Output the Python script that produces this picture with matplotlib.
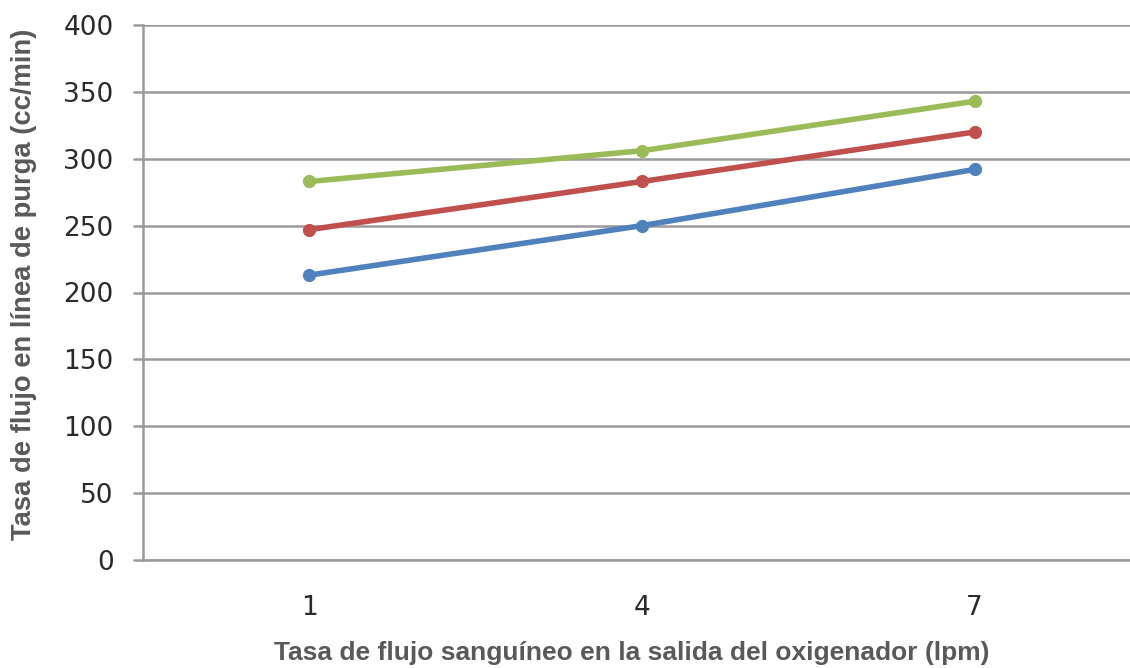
import matplotlib
matplotlib.use("Agg")
import matplotlib.pyplot as plt

categories = ["1", "4", "7"]
serie_azul = [213, 250, 292]
serie_roja = [247, 283, 320]
serie_verde = [283, 306, 343]
y_ticks = [0, 50, 100, 150, 200, 250, 300, 350, 400]

W, H = 1130, 668
fig = plt.figure(figsize=(W / 100, H / 100), dpi=100)
fig.patch.set_facecolor("white")

left, right, top, bottom = 143, 1141, 25, 560
ax = fig.add_axes([left / W, 1 - bottom / H, (right - left) / W, (bottom - top) / H])

grid_c = "#9a9a9a"
x = list(range(len(categories)))
for vals, col in [(serie_azul, "#4F81BD"), (serie_roja, "#C0504D"), (serie_verde, "#9BBB59")]:
    ax.plot(x, vals, color=col, lw=4.0, marker="o", ms=8.5, solid_capstyle="round", zorder=3)

ax.set_xlim(-0.5, 2.5)
ax.set_ylim(0, 400)
ax.set_yticks(y_ticks)
ax.set_yticklabels([str(v) for v in y_ticks])
ax.set_xticks(x)
ax.set_xticklabels(categories)

ax.grid(axis="y", color=grid_c, lw=1.8, zorder=1)
ax.set_axisbelow(True)
for s in ["top", "right"]:
    ax.spines[s].set_visible(False)
ax.spines["left"].set_color(grid_c)
ax.spines["left"].set_linewidth(1.8)
ax.spines["bottom"].set_color(grid_c)
ax.spines["bottom"].set_linewidth(1.8)

ax.tick_params(axis="y", direction="out", length=7.2, width=1.8, color=grid_c,
               pad=14, labelsize=19, labelcolor="#2a2a2a")
ax.tick_params(axis="x", length=0, pad=25, labelsize=19, labelcolor="#2a2a2a")
for lab in ax.get_xticklabels() + ax.get_yticklabels():
    lab.set_fontfamily("DejaVu Sans")

fig.text(632 / W, 1 - 653 / H,
         "Tasa de flujo sanguíneo en la salida del oxigenador (lpm)",
         ha="center", va="center", fontsize=19, fontweight="bold",
         color="#595959", family="Liberation Sans")
fig.text(24 / W, 1 - 284 / H, "Tasa de flujo en línea de purga (cc/min)",
         ha="center", va="center", rotation=90, fontsize=19.7, fontweight="bold",
         color="#595959", family="Liberation Sans")

fig.savefig("out.png", dpi=100)
